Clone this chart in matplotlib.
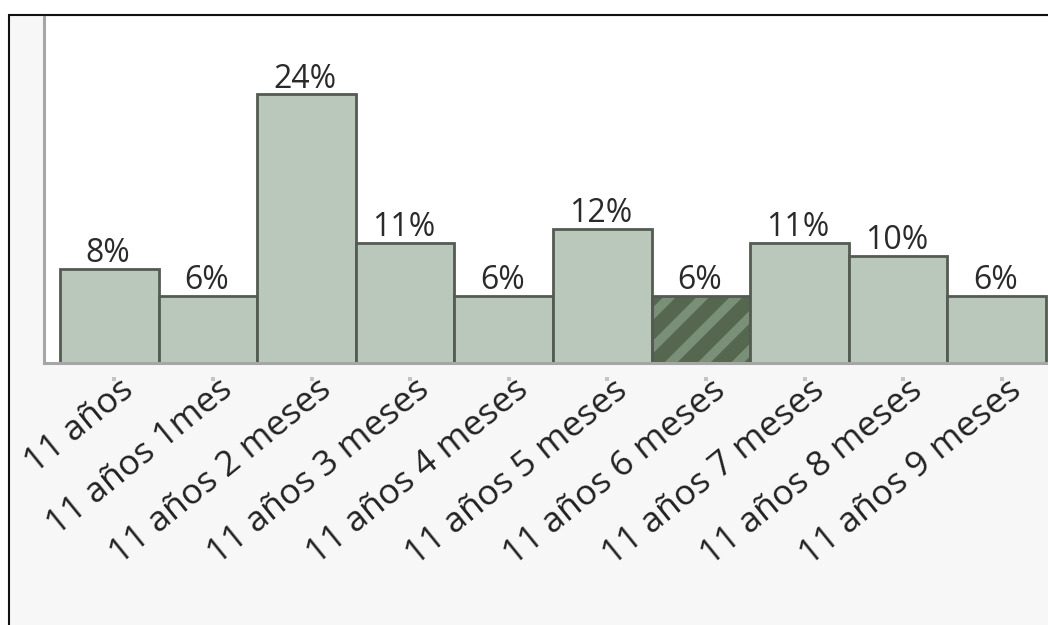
import numpy as np
import matplotlib
matplotlib.use("Agg")
import matplotlib.pyplot as plt
from matplotlib.patches import Rectangle
from matplotlib.transforms import ScaledTranslation, blended_transform_factory

# Data (share of answers by age)
categories = ["11 años", "11 años 1mes", "11 años 2 meses", "11 años 3 meses",
              "11 años 4 meses", "11 años 5 meses", "11 años 6 meses",
              "11 años 7 meses", "11 años 8 meses", "11 años 9 meses"]
percentages = [8.4, 6.0, 24.1, 10.8, 6.0, 12.0, 6.0, 10.8, 9.6, 6.0]
highlighted = "11 años 6 meses"

plt.rcParams['font.family'] = ['Open Sans', 'DejaVu Sans']
plt.rcParams['hatch.linewidth'] = 6.5

W, H = 1048, 625
fig = plt.figure(figsize=(W / 100, H / 100), dpi=100)
fig.patch.set_facecolor("white")

# grey panel with the black frame (only top/left edges are visible)
fig.add_artist(Rectangle((8.5 / W, -0.1), 1.2, 1.1 - 15.5 / H, transform=fig.transFigure,
                         facecolor="#f7f7f7", edgecolor="#111111", linewidth=1.5, zorder=-5))

ax = fig.add_axes([44 / W, (H - 363) / H, 1 - 44 / W, (363 - 16.5) / H])
ax.set_facecolor("white")

x = np.arange(len(categories))
bar_fill = "#b9c8ba"
bar_edge = "#535b52"

for i, (cat, val) in enumerate(zip(categories, percentages)):
    if cat == highlighted:
        # dark bar with lighter diagonal stripes
        ax.bar(i, val, width=1.0, color="#55684f", edgecolor="#7a8f77",
               linewidth=0, hatch="/", zorder=2)
        ax.bar(i, val, width=1.0, fill=False, edgecolor=bar_edge, linewidth=2, zorder=3)
    else:
        ax.bar(i, val, width=1.0, color=bar_fill, edgecolor=bar_edge, linewidth=2, zorder=3)
    ax.annotate(f"{val:.0f}%", (i, val), xytext=(-1, 5), textcoords="offset points",
                ha="center", va="baseline", fontsize=23, color="#2a2a2a")

ax.set_xlim(-0.663, 9.52)
ax.set_ylim(0, 31.1)

for side in ["top", "right"]:
    ax.spines[side].set_visible(False)
for side in ["left", "bottom"]:
    ax.spines[side].set_color("#a6a6a6")
    ax.spines[side].set_linewidth(2.2)
    ax.spines[side].set_zorder(4)

ax.set_yticks([])
ax.set_xticks(x)
ax.set_xticklabels(categories, rotation=39, ha="right", rotation_mode="anchor",
                   fontsize=25.5, color="#222222")
ax.tick_params(axis="x", length=0, pad=7)
shift = ScaledTranslation(10 / 100, 0, fig.dpi_scale_trans)
for lbl in ax.get_xticklabels():
    lbl.set_transform(lbl.get_transform() + shift)

# little grey tick marks under the axis
trans = blended_transform_factory(ax.transData, ax.transAxes) + \
    ScaledTranslation(5 / 100, 0, fig.dpi_scale_trans)
ax.scatter(x, np.full(len(x), -0.045), marker="s", s=12, color="#c4c4c4",
           transform=trans, clip_on=False, zorder=1, linewidths=0)

fig.savefig("out.png", dpi=100)
